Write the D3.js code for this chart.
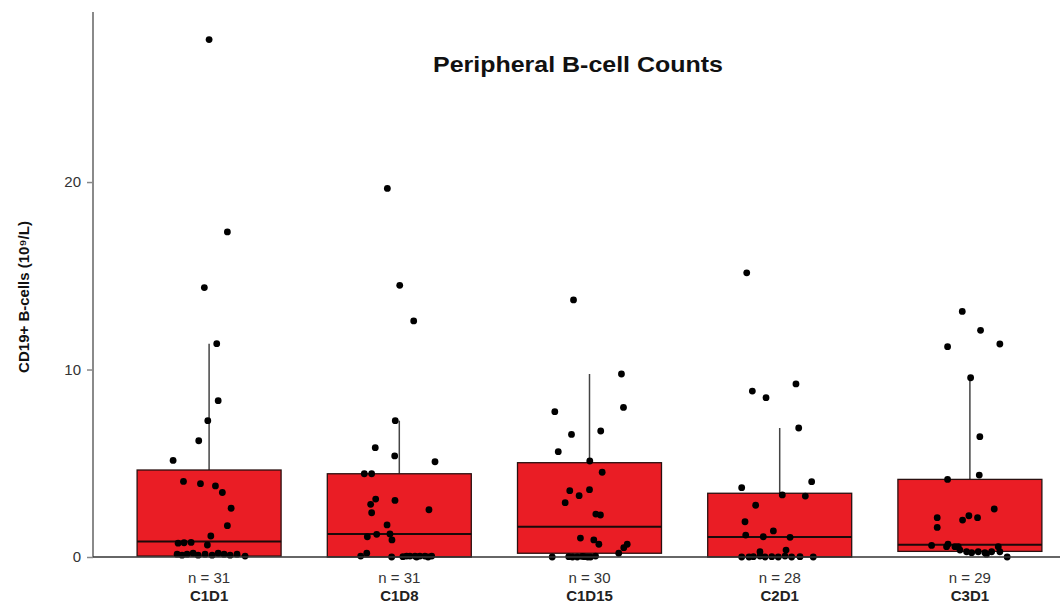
<!DOCTYPE html>
<html>
<head>
<meta charset="utf-8">
<script src="https://cdn.jsdelivr.net/npm/d3@7"></script>
<style>
  html, body { margin: 0; padding: 0; background: #fff; }
  svg { display: block; font-family: "Liberation Sans", Arial, Helvetica, sans-serif; }
</style>
</head>
<body>
<svg id="chart" width="1060" height="604"></svg>
<script>
// ---- data ----
const categories = ["C1D1", "C1D8", "C1D15", "C2D1", "C3D1"];
const counts = [31, 31, 30, 28, 29];
const yTicks = [0, 10, 20];

// box statistics
const q1 = [0.05, 0.0, 0.2, 0.0, 0.3];
const medians = [0.83, 1.23, 1.62, 1.07, 0.65];
const q3 = [4.64, 4.44, 5.03, 3.4, 4.14];
const whiskerHigh = [11.38, 7.27, 9.76, 6.88, 9.56];

// individual points: [value, horizontal jitter as fraction of box width]
const ptsC1D1 = [
  [27.6, 0], [17.34, 0.127], [14.37, -0.033], [11.38, 0.053], [8.34, 0.063],
  [7.27, -0.009], [6.2, -0.072], [5.15, -0.25], [4.03, -0.178], [3.91, -0.06],
  [3.79, 0.044], [3.44, 0.092], [2.6, 0.153], [1.67, 0.127], [1.12, 0.012],
  [0.74, -0.215], [0.76, -0.174], [0.78, -0.125], [0.64, -0.012],
  [0.15, -0.222], [0.1, -0.188], [0.15, -0.153], [0.2, -0.111], [0.1, -0.076],
  [0.15, -0.028], [0.1, 0.021], [0.2, 0.063], [0.15, 0.104], [0.1, 0.146],
  [0.15, 0.194], [0.05, 0.25]
];
const ptsC1D8 = [
  [19.66, -0.083], [14.49, 0.003], [12.59, 0.1], [7.27, -0.028], [5.83, -0.167],
  [5.39, -0.032], [5.08, 0.248], [4.44, -0.243], [4.44, -0.192], [3.09, -0.164],
  [3.02, -0.03], [2.81, -0.199], [2.52, 0.206], [2.36, -0.192], [1.71, -0.085],
  [1.23, -0.065], [1.21, -0.157], [1.08, -0.222], [0.91, -0.051],
  [0.05, -0.268], [0.2, -0.226], [0.0, -0.053], [0.05, 0.051], [0.05, 0.074],
  [0.05, 0.109], [0.05, 0.143], [0.05, 0.178], [0.05, 0.225], [0.02, 0.025],
  [0.0, 0.12], [0.0, 0.2]
];
const ptsC1D15 = [
  [13.71, -0.111], [9.76, 0.222], [7.98, 0.236], [7.75, -0.241], [6.72, 0.078],
  [6.54, -0.125], [5.62, -0.217], [5.12, 0.002], [4.52, 0.088], [3.59, 0.0],
  [3.54, -0.137], [3.27, -0.072], [2.9, -0.169], [2.29, 0.044], [2.24, 0.076],
  [1.01, -0.063], [0.91, 0.03], [0.68, 0.065], [0.68, 0.262], [0.5, 0.238],
  [0.2, 0.203],
  [0.0, -0.259], [0.02, -0.144], [0.0, -0.085], [0.03, -0.051], [0.0, -0.012],
  [0.05, 0.042], [0.0, -0.118], [0.02, -0.035], [0.0, 0.007]
];
const ptsC2D1 = [
  [15.16, -0.229], [9.23, 0.113], [8.85, -0.19], [8.5, -0.095], [6.88, 0.132],
  [4.02, 0.222], [3.7, -0.264], [3.31, 0.018], [3.25, 0.178], [2.76, -0.167],
  [1.88, -0.241], [1.39, -0.044], [1.17, -0.236], [1.08, -0.114], [1.05, 0.072],
  [0.37, 0.044], [0.28, -0.137],
  [0.0, -0.264], [0.0, -0.213], [0.02, -0.183], [0.05, -0.137], [0.0, -0.102],
  [0.02, -0.055], [0.0, -0.01], [0.05, 0.037], [0.0, 0.083], [0.02, 0.141],
  [0.0, 0.233]
];
const ptsC3D1 = [
  [13.1, -0.053], [12.09, 0.074], [11.36, 0.208], [11.22, -0.155], [9.56, 0.005],
  [6.42, 0.069], [4.37, 0.065], [4.14, -0.155], [2.56, 0.169], [2.2, -0.007],
  [2.1, 0.053], [1.97, -0.051], [2.1, -0.227], [1.58, -0.227], [0.62, -0.266],
  [0.55, -0.162], [0.55, -0.081],
  [0.68, -0.152], [0.55, -0.104], [0.37, -0.069], [0.28, -0.023], [0.23, 0.012],
  [0.28, 0.058], [0.23, 0.104], [0.28, 0.151], [0.55, 0.197], [0.28, 0.208],
  [0.0, 0.259], [0.15, 0.115]
];
const points = [ptsC1D1, ptsC1D8, ptsC1D15, ptsC2D1, ptsC3D1];

const title = "Peripheral B-cell Counts";
const yLabel = "CD19+ B-cells (10\u2079/L)";

// ---- chart ----
const svg = d3.select("#chart");
const plotLeft = 93, plotRight = 1060, plotTop = 12, plotBottom = 557;

const y = d3.scaleLinear().domain([0, 29.07]).range([plotBottom, plotTop]);
const x = d3.scaleBand().domain(categories).range([114, 1065])
  .paddingInner(0.243).paddingOuter(0.1215);
const bw = x.bandwidth();

// boxes
const g = svg.append("g");
categories.forEach((c, i) => {
  const cx = x(c) + bw / 2;
  // whisker
  g.append("line")
    .attr("x1", cx).attr("x2", cx)
    .attr("y1", y(q3[i])).attr("y2", y(whiskerHigh[i]))
    .attr("stroke", "#444").attr("stroke-width", 1.5);
  // box
  g.append("rect")
    .attr("x", x(c)).attr("width", bw)
    .attr("y", y(q3[i])).attr("height", y(q1[i]) - y(q3[i]))
    .attr("fill", "#ea1d25").attr("stroke", "#2a1010").attr("stroke-width", 1.3);
  // median
  g.append("line")
    .attr("x1", x(c)).attr("x2", x(c) + bw)
    .attr("y1", y(medians[i])).attr("y2", y(medians[i]))
    .attr("stroke", "#1a0a0a").attr("stroke-width", 2);
});

// points
categories.forEach((c, i) => {
  const cx = x(c) + bw / 2;
  g.append("g").selectAll("circle")
    .data(points[i])
    .join("circle")
    .attr("cx", d => cx + d[1] * bw)
    .attr("cy", d => y(d[0]))
    .attr("r", 3.4)
    .attr("fill", "#000");
});

// y axis
const yAxis = d3.axisLeft(y).tickValues(yTicks).tickSize(6).tickPadding(6);
const ya = svg.append("g").attr("transform", `translate(${plotLeft},0)`).call(yAxis);
ya.select(".domain").remove();
ya.selectAll(".tick line").attr("stroke", "#888").attr("stroke-width", 1.5);
ya.selectAll(".tick text").attr("font-size", 15).attr("fill", "#333")
  .attr("font-family", "Liberation Sans, Arial, sans-serif");
svg.append("line")
  .attr("x1", plotLeft).attr("x2", plotLeft)
  .attr("y1", plotTop).attr("y2", plotBottom)
  .attr("stroke", "#8a8a8a").attr("stroke-width", 2);

// x axis
const xAxis = d3.axisBottom(x).tickSize(0).tickPadding(0).tickFormat(() => "");
const xa = svg.append("g").attr("transform", `translate(0,${plotBottom})`).call(xAxis);
xa.select(".domain").remove();
svg.append("line")
  .attr("x1", plotLeft).attr("x2", plotRight)
  .attr("y1", plotBottom).attr("y2", plotBottom)
  .attr("stroke", "#333").attr("stroke-width", 1.5);

xa.selectAll(".tick").each(function(c, i) {
  const t = d3.select(this);
  t.append("text").attr("y", 26).attr("text-anchor", "middle")
    .attr("font-size", 15).attr("fill", "#333")
    .text("n = " + counts[categories.indexOf(c)]);
  t.append("text").attr("y", 44).attr("text-anchor", "middle")
    .attr("font-size", 15).attr("font-weight", "bold").attr("fill", "#222")
    .text(c);
});

// title
svg.append("text")
  .attr("x", 578).attr("y", 72)
  .attr("text-anchor", "middle")
  .attr("font-size", 22).attr("font-weight", "bold").attr("fill", "#111")
  .attr("textLength", 290).attr("lengthAdjust", "spacingAndGlyphs")
  .text(title);

// y label
svg.append("text")
  .attr("transform", "translate(29,297) rotate(-90)")
  .attr("text-anchor", "middle")
  .attr("font-size", 15).attr("font-weight", "bold").attr("fill", "#111")
  .text(yLabel);
</script>
</body>
</html>
